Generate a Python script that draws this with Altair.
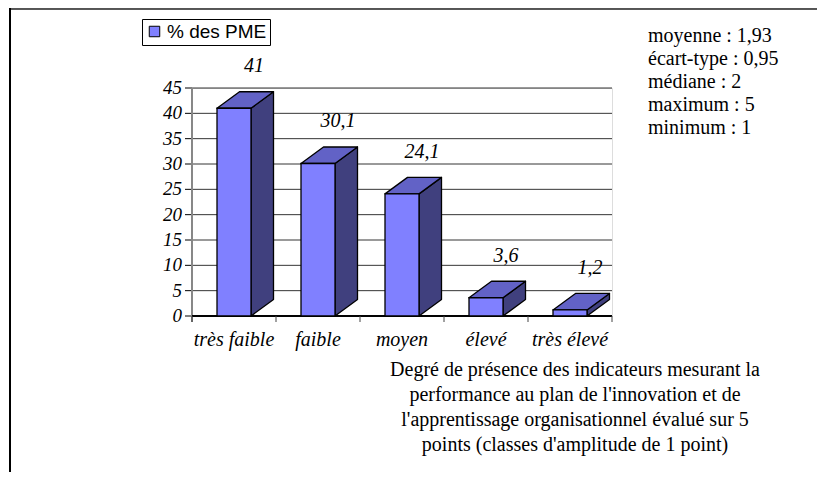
import altair as alt
import pandas as pd

# ---- data ----
categories = ["très faible", "faible", "moyen", "élevé", "très élevé"]
values = [41, 30.1, 24.1, 3.6, 1.2]
series_name = "% des PME"
y_ticks = [0, 5, 10, 15, 20, 25, 30, 35, 40, 45]
x_bounds = [-0.5, 0.5, 1.5, 2.5, 3.5, 4.5]
stats_lines = ["moyenne : 1,93", "écart-type : 0,95", "médiane : 2", "maximum : 5", "minimum : 1"]
x_title_lines = [
    "Degré de présence des indicateurs mesurant la",
    "performance au plan de l'innovation et de",
    "l'apprentissage organisationnel évalué sur 5",
    "points (classes d'amplitude de 1 point)",
]

# ---- geometry (plot area 420 x 228 px) ----
W, H = 420, 228
PX_X = W / 5.0          # px per category unit
PX_Y = H / 45.0         # px per y unit
HW = 17 / PX_X          # half width of front face
DX = 22.5 / PX_X        # depth offset x
DY = 16.5 / PX_Y        # depth offset y

SERIF = "Liberation Serif"
FRONT, TOP, SIDE = "#8080ff", "#6262c6", "#40407e"

df = pd.DataFrame({"idx": list(range(len(categories))), "cat": categories,
                   "val": values, "series": series_name})
yt_df = pd.DataFrame({"t": y_ticks})
xb_df = pd.DataFrame({"b": x_bounds})

side_rows, top_rows = [], []
for i, v in enumerate(values):
    side_rows += [dict(cat=categories[i], x=i + HW, lo=0.0, hi=v),
                  dict(cat=categories[i], x=i + HW + DX, lo=DY, hi=v + DY)]
    top_rows += [dict(cat=categories[i], y=v, xl=i - HW, xr=i + HW),
                 dict(cat=categories[i], y=v + DY, xl=i - HW + DX, xr=i + HW + DX)]
side_df = pd.DataFrame(side_rows)
top_df = pd.DataFrame(top_rows)

xscale = alt.Scale(domain=[-0.5, 4.5], nice=False, zero=False)
yscale = alt.Scale(domain=[0, 45], nice=False)


def X(field):
    return alt.X(field, scale=xscale, axis=None)


def Y(field):
    return alt.Y(field, scale=yscale, axis=None)


# ---- hand-drawn axes, driven by the tick arrays through the scales ----
grid = alt.Chart(yt_df).mark_rule(color="black", strokeWidth=0.8).encode(
    y=Y("t:Q"), x=alt.value(0), x2=alt.value(W))
y_ticks_m = alt.Chart(yt_df).mark_rule(color="black", strokeWidth=1).encode(
    y=Y("t:Q"), x=alt.value(-7), x2=alt.value(0))
y_labels = alt.Chart(yt_df).mark_text(font=SERIF, fontStyle="italic", fontSize=19, align="right",
                                      baseline="middle", color="black", dx=-10).encode(
    y=Y("t:Q"), x=alt.value(0), text="t:Q")
y_domain = alt.Chart(yt_df).mark_rule(color="#888", strokeWidth=1.2).encode(
    x=alt.value(0), y=alt.value(0), y2=alt.value(H + 6))
x_domain = alt.Chart(xb_df).mark_rule(color="black", strokeWidth=1.2).encode(
    x=alt.value(0), x2=alt.value(W), y=alt.value(H))
x_ticks_m = alt.Chart(xb_df).mark_rule(color="#444", strokeWidth=1).encode(
    x=X("b:Q"), y=alt.value(H), y2=alt.value(H + 6))
x_title = alt.Chart(pd.DataFrame({"t": ["\n".join(x_title_lines)]})).mark_text(
    font=SERIF, fontSize=20, align="center", baseline="top", lineBreak="\n",
    lineHeight=25, color="black"
).encode(x=alt.value(383), y=alt.value(H + 44), text="t:N")

side = alt.Chart(side_df).mark_area(fill=SIDE, stroke="black", strokeWidth=1.3, strokeJoin="round").encode(
    x=X("x:Q"), y=Y("lo:Q"), y2="hi:Q", detail="cat:N",
)

top = alt.Chart(top_df).mark_area(orient="horizontal", fill=TOP, stroke="black", strokeWidth=1.3,
                                  strokeJoin="round").encode(
    y=Y("y:Q"), x=X("xl:Q"), x2="xr:Q", detail="cat:N",
)

front = alt.Chart(df).transform_calculate(
    xl=f"datum.idx - {HW}", xr=f"datum.idx + {HW}"
).mark_bar(stroke="black", strokeWidth=1.3).encode(
    x=X("xl:Q"), x2="xr:Q", y=Y("val:Q"), y2=alt.datum(0),
    color=alt.Color("series:N", scale=alt.Scale(domain=[series_name], range=[FRONT]),
                    legend=alt.Legend(orient="none", legendX=-50, legendY=-69, title=None,
                                      strokeColor="black", fillColor="white", padding=3,
                                      symbolType="square", symbolSize=110,
                                      symbolStrokeColor="black", symbolStrokeWidth=1,
                                      symbolFillColor=FRONT, symbolOpacity=1,
                                      labelFont="Liberation Sans", labelFontSize=19,
                                      labelColor="black", labelOffset=3)),
)

value_labels = alt.Chart(df).transform_calculate(
    lbl="replace(toString(datum.val), '.', ',')"
).mark_text(font=SERIF, fontStyle="italic", fontSize=20, dx=20, dy=-42,
            baseline="middle", align="center", color="black").encode(
    x=X("idx:Q"), y=Y("val:Q"), text="lbl:N",
)

cat_labels = alt.Chart(df).mark_text(font=SERIF, fontStyle="italic", fontSize=20, dy=24,
                                     baseline="middle", align="center", color="black").encode(
    x=X("idx:Q"), y=alt.datum(0), text="cat:N",
)

stats = alt.Chart(pd.DataFrame({"t": ["\n".join(stats_lines)]})).mark_text(
    font=SERIF, fontSize=20, align="left", baseline="top", lineBreak="\n",
    lineHeight=23, color="black"
).encode(x=alt.value(456), y=alt.value(-62), text="t:N")

border_top = alt.Chart(df).mark_rule(color="#555", strokeWidth=1.5).encode(
    x=alt.value(-182), x2=alt.value(640), y=alt.value(-79.3))
border_left = alt.Chart(df).mark_rule(color="black", strokeWidth=1.5).encode(
    x=alt.value(-182), y=alt.value(-80), y2=alt.value(420))

chart = alt.layer(grid, y_ticks_m, y_labels, y_domain, x_domain, x_ticks_m, x_title,
                  side, top, front, value_labels, cat_labels, stats,
                  border_top, border_left).properties(
    width=W, height=H,
    autosize=alt.AutoSizeParams(type="none"),
    padding={"left": 184, "top": 80, "right": 205, "bottom": 156},
).configure_view(stroke=None).configure(background="white")

chart.save("out.html", embed_options={"renderer": "svg", "actions": False})
